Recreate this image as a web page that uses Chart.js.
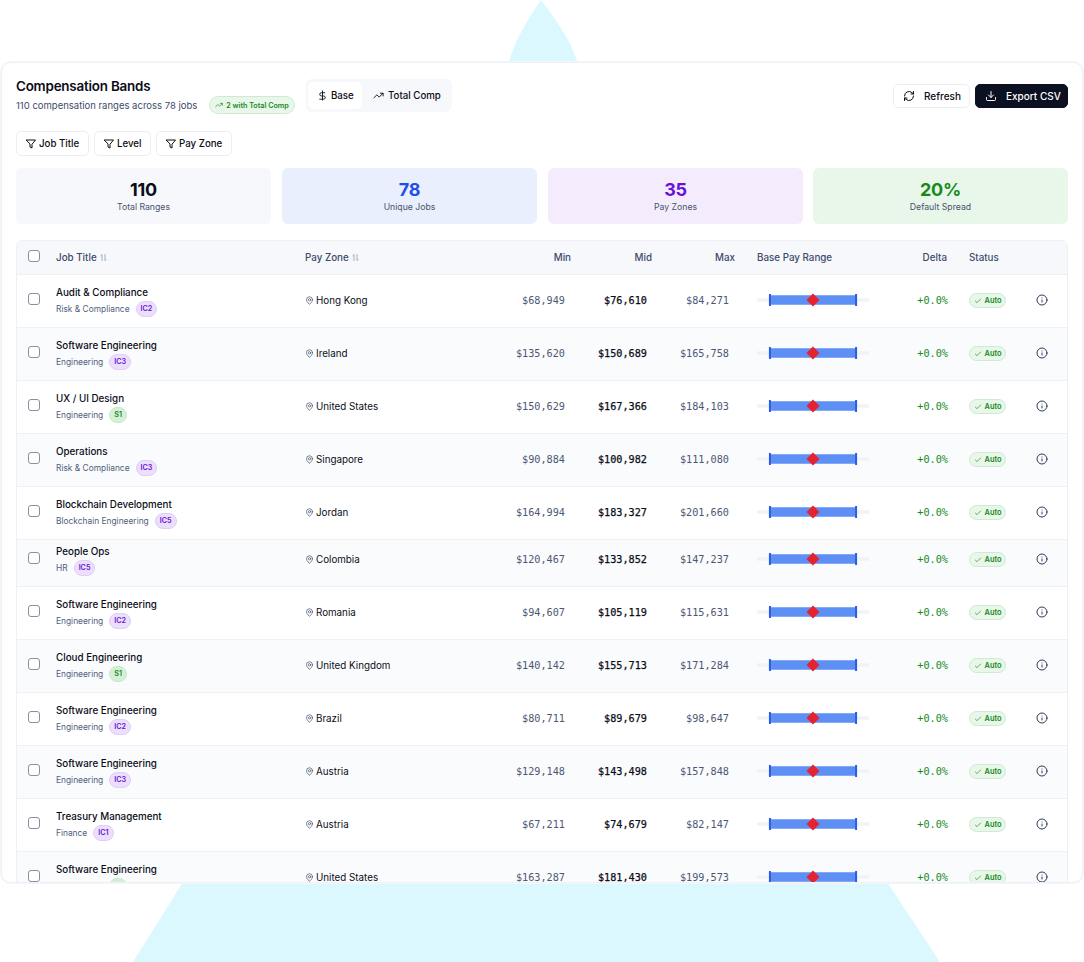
<!DOCTYPE html>
<html>
<head>
<meta charset="utf-8">
<title>Compensation Bands</title>
<script src="https://cdn.jsdelivr.net/npm/chart.js@4"></script>
<style>
* { box-sizing: border-box; }
html, body { margin: 0; padding: 0; background: #fff; }
body { width: 1084px; height: 962px; position: relative; overflow: hidden; font-family: Inter, sans-serif; color: #0b0d17; }
.bg { position: absolute; left: 0; top: 0; }
.card { position: absolute; left: 1px; top: 62px; width: 1082px; height: 821px; background: #fff; border: 1px solid #eef2f7; box-shadow: 0 0 0 1px #f4f7fa; border-radius: 10px; overflow: hidden; }
.abs { position: absolute; white-space: nowrap; }
.title { left: 14px; top: 13px; font-size: 13.4px; font-weight: 600; letter-spacing: -0.2px; line-height: 20px; }
.subtitle { left: 14px; top: 35px; font-size: 9.5px; color: #3d4b6b; line-height: 16px; }
.tc-badge { left: 207px; top: 33px; width: 86px; height: 18px; border: 1px solid #cdeccf; background: #e9f7ea; border-radius: 9px; font-size: 7.2px; font-weight: 600; color: #178a1e; display: flex; align-items: center; justify-content: center; gap: 3px; }
.toggle { left: 304px; top: 16px; width: 146px; height: 33px; background: #f7f8fc; border-radius: 6px; }
.toggle div { position: absolute; top: 3px; height: 27px; display: flex; align-items: center; font-size: 9.7px; font-weight: 500; border-radius: 5px; padding-left: 9px; }
.btn { top: 21px; height: 24px; border-radius: 5px; border: 1px solid #eceef3; display: flex; align-items: center; font-size: 10px; font-weight: 500; background: #fff; padding-left: 9px; gap: 9px; }
.btn.dark { background: #0b1120; color: #fff; border-color: #0b1120; }
.filter { top: 68px; height: 25px; border-radius: 5px; border: 1px solid #eceef3; display: flex; align-items: center; gap: 2px; padding-left: 8px; font-size: 9.7px; font-weight: 500; background: #fff; }
.stat { top: 105px; width: 255px; height: 56px; border-radius: 6px; text-align: center; }
.stat b { display: block; margin-top: 11px; font-size: 18px; line-height: 22px; font-weight: 700; letter-spacing: -0.3px; }
.stat span { display: block; font-size: 8.7px; line-height: 12px; margin-top: 0; color: #47536f; }
.table { position: absolute; left: 14px; top: 177px; width: 1052px; height: 660px; border: 1px solid #eef0f5; border-radius: 6px; overflow: hidden; }
.head { position: relative; height: 34px; background: #f7f8fc; border-bottom: 1px solid #eef0f5; font-size: 9.8px; font-weight: 500; color: #3d4b6b; }
.head .abs { top: 0; line-height: 33px; }
.row { position: relative; height: 53px; border-bottom: 1px solid #eef0f5; background: #fff; z-index: 1; }
.row.even { background: #fafbfd; }
.row.tucked { margin-top: -6px; z-index: 0; }
.check { position: absolute; left: 11px; width: 12px; height: 12px; border: 1px solid #8a90a2; border-radius: 3px; background: #fff; }
.row .check { top: 18px; }
.head .check { top: 9px; }
.job { left: 39px; top: 10px; font-size: 9.8px; font-weight: 500; line-height: 15px; }
.dept { left: 39px; top: 26px; font-size: 8.4px; color: #52607c; line-height: 15px; display: flex; align-items: center; gap: 6px; }
.lvl { display: inline-block; height: 16px; line-height: 14px; padding: 0 4px; border-radius: 8px; font-size: 7.2px; font-weight: 600; border: 1px solid transparent; }
.lvl.ic { background: #ecdffb; color: #6a12d8; border-color: #e0cdf8; }
.lvl.s { background: #d6f0d8; color: #178a1e; border-color: #c6e9c9; }
.zone { left: 288px; top: 0; font-size: 9.8px; display: flex; align-items: center; height: 50px; gap: 2px; }
.money { top: 0; line-height: 52px; font-family: "DejaVu Sans Mono", monospace; font-size: 10.2px; text-align: right; color: #4c5873; }
.money.mid { color: #0b0d17; -webkit-text-stroke: 0.25px #0b0d17; }
.money.min { right: 502px; }
.money.mid { right: 420px; }
.money.max { right: 338px; }
.delta { right: 119px; top: 0; line-height: 52px; font-family: "DejaVu Sans Mono", monospace; font-size: 10.2px; color: #178a1e; }
.auto { left: 952px; top: 18px; width: 37px; height: 15px; border: 1px solid #cdeccf; background: #e9f7ea; border-radius: 8px; font-size: 7.4px; font-weight: 600; color: #178a1e; display: flex; align-items: center; justify-content: center; gap: 3px; }
.info { left: 1019px; top: 19px; display: flex; }
.spark { position: absolute; left: 740px; top: 15px; width: 112px; height: 20px; }
.spark canvas { display: block; }
</style>
</head>
<body>
<svg class="bg" width="1084" height="962">
  <path d="M541 0 C530 16 516 38 509 61 L577 61 C570 38 553 16 541 0 Z" fill="#dcf8ff"/>
  <path d="M183 882 L887 882 L940 962 L133 962 Z" fill="#dcf8ff"/>
</svg>
<div class="card" id="card"></div>

<script>
const jobTitles = ["Audit & Compliance", "Software Engineering", "UX / UI Design", "Operations", "Blockchain Development", "People Ops", "Software Engineering", "Cloud Engineering", "Software Engineering", "Software Engineering", "Treasury Management", "Software Engineering"];
const departments = ["Risk & Compliance", "Engineering", "Engineering", "Risk & Compliance", "Blockchain Engineering", "HR", "Engineering", "Engineering", "Engineering", "Engineering", "Finance", "Engineering"];
const levels = ["IC2", "IC3", "S1", "IC3", "IC5", "IC5", "IC2", "S1", "IC2", "IC3", "IC1", "S1"];
const payZones = ["Hong Kong", "Ireland", "United States", "Singapore", "Jordan", "Colombia", "Romania", "United Kingdom", "Brazil", "Austria", "Austria", "United States"];
const minValues = [68949, 135620, 150629, 90884, 164994, 120467, 94607, 140142, 80711, 129148, 67211, 163287];
const midValues = [76610, 150689, 167366, 100982, 183327, 133852, 105119, 155713, 89679, 143498, 74679, 181430];
const maxValues = [84271, 165758, 184103, 111080, 201660, 147237, 115631, 171284, 98647, 157848, 82147, 199573];
const deltas = ["+0.0%", "+0.0%", "+0.0%", "+0.0%", "+0.0%", "+0.0%", "+0.0%", "+0.0%", "+0.0%", "+0.0%", "+0.0%", "+0.0%"];
const statValues = ["110", "78", "35", "20%"];
const statLabels = ["Total Ranges", "Unique Jobs", "Pay Zones", "Default Spread"];

const icon = (size, color, inner) => `<svg width="${size}" height="${size}" viewBox="0 0 24 24" fill="none" stroke="${color}" stroke-width="2" stroke-linecap="round" stroke-linejoin="round">${inner}</svg>`;
const trendPath = '<path d="M22 7l-8.5 8.5-5-5L2 17"/><path d="M16 7h6v6"/>';
const funnel = icon(12, "#0b0d17", '<path d="M3 4h18l-7 8.5V20l-4-2v-5.5z"/>');
const pin = icon(9, "#4c5873", '<path d="M20 10c0 6-8 12-8 12s-8-6-8-12a8 8 0 0 1 16 0z"/><circle cx="12" cy="10" r="3"/>');
const tick = color => icon(8, color, '<path d="M20 6L9 17l-5-5"/>');
const sortIcon = icon(9, "#8a93a8", '<path d="M8 20V4l-3 3"/><path d="M16 4v16l3-3"/>');
const infoIcon = icon(12, "#2e3a59", '<circle cx="12" cy="12" r="10"/><path d="M12 16v-4"/><path d="M12 8h.01"/>');

const statColors = [["#f7f8fc", "#0b0d17"], ["#e9effd", "#1f4ee8"], ["#f4ecfc", "#6a12d8"], ["#e9f7ea", "#178a1e"]];
const statLefts = [14, 280, 546, 811];

let html = `
  <div class="abs title">Compensation Bands</div>
  <div class="abs subtitle">110 compensation ranges across 78 jobs</div>
  <div class="abs tc-badge">${icon(8, "#178a1e", trendPath)}2 with Total Comp</div>
  <div class="abs toggle">
    <div style="left:2px;width:54px;background:#fff;gap:3px">${icon(11, "#0b0d17", '<path d="M12 2v20"/><path d="M17 6H9.5a3.5 3.5 0 0 0 0 7h5a3.5 3.5 0 0 1 0 7H6"/>')}Base</div>
    <div style="left:58px;width:86px;gap:4px">${icon(11, "#0b0d17", trendPath)}Total Comp</div>
  </div>
  <div class="abs btn" style="left:891px;width:77px">${icon(12, "#0b0d17", '<path d="M3 12a9 9 0 0 1 15-6.7L21 8"/><path d="M21 3v5h-5"/><path d="M21 12a9 9 0 0 1-15 6.7L3 16"/><path d="M8 16H3v5"/>')}Refresh</div>
  <div class="abs btn dark" style="left:973px;width:93px">${icon(12, "#fff", '<path d="M21 15v4a2 2 0 0 1-2 2H5a2 2 0 0 1-2-2v-4"/><path d="M7 10l5 5 5-5"/><path d="M12 15V3"/>')}Export CSV</div>
  <div class="abs filter" style="left:14px;width:73px">${funnel}Job Title</div>
  <div class="abs filter" style="left:92px;width:57px">${funnel}Level</div>
  <div class="abs filter" style="left:154px;width:76px">${funnel}Pay Zone</div>`;

statValues.forEach((v, i) => {
  html += `<div class="abs stat" style="left:${statLefts[i]}px;background:${statColors[i][0]}"><b style="color:${statColors[i][1]}">${v}</b><span>${statLabels[i]}</span></div>`;
});

html += `<div class="table"><div class="head">
  <div class="check"></div>
  <div class="abs" style="left:39px">Job Title <span style="vertical-align:-1px">${sortIcon}</span></div>
  <div class="abs" style="left:288px">Pay Zone <span style="vertical-align:-1px">${sortIcon}</span></div>
  <div class="abs" style="right:496px">Min</div>
  <div class="abs" style="right:415px">Mid</div>
  <div class="abs" style="right:332px">Max</div>
  <div class="abs" style="left:740px">Base Pay Range</div>
  <div class="abs" style="right:120px">Delta</div>
  <div class="abs" style="left:952px">Status</div>
</div>`;

const money = v => "$" + v.toLocaleString("en-US");
jobTitles.forEach((job, i) => {
  const lvlClass = levels[i].startsWith("S") ? "s" : "ic";
  // People Ops sits 6px under the row above it in the reference
  html += `<div class="row${i % 2 ? " even" : ""}${i === 5 ? " tucked" : ""}">
    <div class="check"></div>
    <div class="abs job">${job.replace("&", "&amp;")}</div>
    <div class="abs dept">${departments[i].replace("&", "&amp;")}<span class="lvl ${lvlClass}">${levels[i]}</span></div>
    <div class="abs zone">${pin}${payZones[i]}</div>
    <div class="abs money min">${money(minValues[i])}</div>
    <div class="abs money mid">${money(midValues[i])}</div>
    <div class="abs money max">${money(maxValues[i])}</div>
    <div class="spark"><canvas id="range${i}"></canvas></div>
    <div class="abs delta">${deltas[i]}</div>
    <div class="abs auto">${tick("#178a1e")}Auto</div>
    <div class="abs info">${infoIcon}</div>
  </div>`;
});
html += "</div>";
document.getElementById("card").innerHTML = html;

jobTitles.forEach((job, i) => {
  const lo = minValues[i], mid = midValues[i], hi = maxValues[i];
  const pad = (hi - lo) * 0.15;
  const axisMin = lo - pad, axisMax = hi + pad;
  new Chart(document.getElementById("range" + i), {
    type: "bar",
    data: {
      labels: [job],
      datasets: [
        { type: "scatter", data: [{ x: mid, y: job }], pointStyle: "rectRot", pointRadius: 6.5, backgroundColor: "#e5232e", borderWidth: 0, order: 0 },
        { type: "scatter", data: [{ x: lo, y: job }, { x: hi, y: job }], pointStyle: "line", rotation: 90, pointRadius: 6, borderColor: "#2c5ce6", borderWidth: 2, order: 1 },
        { data: [[lo, hi]], backgroundColor: "#5d8ff5", barThickness: 9, order: 2 },
        { data: [[axisMin, axisMax]], backgroundColor: "#f1f3f8", barThickness: 3, order: 3 },
      ],
    },
    options: {
      indexAxis: "y",
      responsive: true,
      maintainAspectRatio: false,
      animation: false,
      events: [],
      // without this the point radii eat the small chart area
      layout: { autoPadding: false, padding: 0 },
      plugins: { legend: { display: false }, tooltip: { enabled: false } },
      datasets: { bar: { grouped: false } },
      scales: {
        x: { type: "linear", min: axisMin, max: axisMax, display: false },
        y: { type: "category", display: false },
      },
    },
  });
});
</script>
</body>
</html>
